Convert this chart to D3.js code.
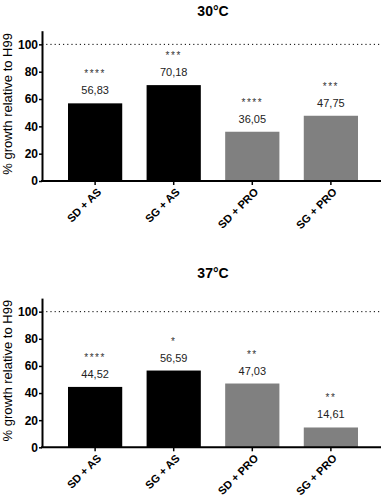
<!DOCTYPE html>
<html>
<head>
<meta charset="utf-8">
<script src="https://cdn.jsdelivr.net/npm/d3@7"></script>
<style>
  body { margin: 0; background: #fff; }
  svg { display: block; font-family: "Liberation Sans", Arial, sans-serif; }
</style>
</head>
<body>
<svg width="388" height="500"></svg>
<script>
const categories = ["SD + AS", "SG + AS", "SD + PRO", "SG + PRO"];
const barColors = ["#000000", "#000000", "#808080", "#808080"];
const values30 = [56.83, 70.18, 36.05, 47.75];
const values37 = [44.52, 56.59, 47.03, 14.61];
const stars30 = ["****", "***", "****", "***"];
const stars37 = ["****", "*", "**", "**"];
const yTicks = [0, 20, 40, 60, 80, 100];

const svg = d3.select("svg");
const fmt = d3.format(".2f");

function panel(title, values, stars, top, bottom, titleY) {
  const left = 42, right = 381;
  const x = d3.scaleBand().domain(categories).range([68, 358])
    .paddingInner(0.31).paddingOuter(0);
  const y = d3.scaleLinear().domain([0, 110]).range([bottom, top]);

  const g = svg.append("g");

  g.append("text")
    .attr("x", 213).attr("y", titleY)
    .attr("text-anchor", "middle")
    .attr("font-weight", "bold")
    .attr("font-size", 14)
    .text(title);

  // reference line at 100%
  g.append("line")
    .attr("x1", left).attr("x2", right)
    .attr("y1", y(100)).attr("y2", y(100))
    .attr("stroke", "#000")
    .attr("stroke-width", 1)
    .attr("stroke-dasharray", "1.2,3");

  g.selectAll(".bar").data(values)
    .enter().append("rect")
    .attr("class", "bar")
    .attr("x", (d, i) => x(categories[i]))
    .attr("y", d => y(d))
    .attr("width", x.bandwidth())
    .attr("height", d => y(0) - y(d))
    .attr("fill", (d, i) => barColors[i]);

  g.selectAll(".val").data(values)
    .enter().append("text")
    .attr("class", "val")
    .attr("x", (d, i) => x(categories[i]) + x.bandwidth() / 2)
    .attr("y", d => y(d) - 9)
    .attr("text-anchor", "middle")
    .attr("font-size", 11)
    .attr("fill", "#222")
    .text(d => fmt(d).replace(".", ","));

  g.selectAll(".star").data(values)
    .enter().append("text")
    .attr("class", "star")
    .attr("x", (d, i) => x(categories[i]) + x.bandwidth() / 2)
    .attr("y", d => y(d) - 26)
    .attr("text-anchor", "middle")
    .attr("font-size", 10)
    .attr("letter-spacing", 1.5)
    .attr("fill", "#333")
    .text((d, i) => stars[i]);

  // y axis
  const ay = g.append("g")
    .attr("transform", "translate(" + left + ",0)")
    .call(d3.axisLeft(y).tickValues(yTicks).tickSize(3).tickSizeOuter(0));
  ay.select(".domain").attr("stroke-width", 2);
  ay.selectAll(".tick line").attr("stroke-width", 1.5);
  ay.selectAll("text")
    .attr("font-size", 12).attr("font-weight", "bold")
    .attr("font-family", "Liberation Sans, Arial, sans-serif")
    .attr("x", -4);

  // x axis
  const ax = g.append("g")
    .attr("transform", "translate(0," + y(0) + ")");
  ax.append("line")
    .attr("x1", left - 1).attr("x2", right)
    .attr("stroke", "#000").attr("stroke-width", 2);
  ax.selectAll(".tk").data(categories)
    .enter().append("line")
    .attr("class", "tk")
    .attr("x1", d => x(d) + x.bandwidth() / 2)
    .attr("x2", d => x(d) + x.bandwidth() / 2)
    .attr("y1", 0).attr("y2", 4)
    .attr("stroke", "#000").attr("stroke-width", 1.5);
  ax.selectAll(".lbl").data(categories)
    .enter().append("text")
    .attr("class", "lbl")
    .attr("transform", d => "translate(" + (x(d) + x.bandwidth() / 2 + 4) + ",9) rotate(-45)")
    .attr("text-anchor", "end")
    .attr("dy", "0.35em")
    .attr("font-size", 11)
    .attr("font-weight", "bold")
    .text(d => d);

  g.append("text")
    .attr("transform", "translate(12," + ((top + bottom) / 2 - 2) + ") rotate(-90)")
    .attr("text-anchor", "middle")
    .attr("font-size", 13)
    .text("% growth relative to H99");
}

panel("30°C", values30, stars30, 30.7, 181, 16);
panel("37°C", values37, stars37, 298.1, 447.3, 278);
</script>
</body>
</html>
